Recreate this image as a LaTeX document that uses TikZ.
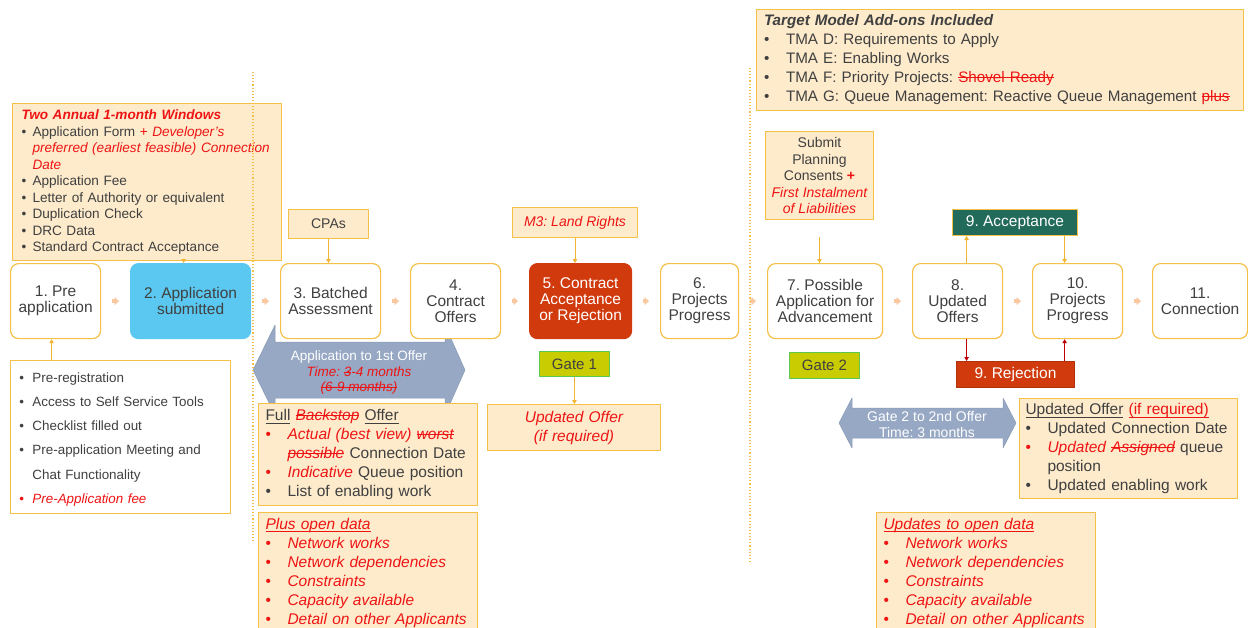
\documentclass[tikz,border=0pt]{standalone}
\usepackage{fontspec}
\setmainfont{Liberation Sans}
\usepackage{xcolor}
\usetikzlibrary{arrows.meta,calc,positioning}

\definecolor{txtgrey}{RGB}{64,64,64}
\definecolor{boxline}{RGB}{244,192,72}
\definecolor{boxfill}{RGB}{253,235,204}
\definecolor{offred}{RGB}{238,20,20}
\definecolor{skyfill}{RGB}{90,200,240}
\definecolor{rustfill}{RGB}{208,58,12}
\definecolor{tealfill}{RGB}{34,106,90}
\definecolor{gatefill}{RGB}{200,204,0}
\definecolor{gateline}{RGB}{90,200,80}
\definecolor{arrowgrey}{RGB}{150,168,196}
\definecolor{flowtip}{RGB}{248,200,160}
\definecolor{linkorange}{RGB}{242,180,50}
\definecolor{linkred}{RGB}{192,0,0}

\frenchspacing
\newsavebox{\markbox}
\newlength{\bulind}
\newcommand{\fsz}[2]{\fontsize{#1}{#2}\selectfont}
\newcommand{\strk}[1]{\sbox{\markbox}{#1}\rlap{\rule[0.3em]{\wd\markbox}{0.9pt}}\usebox{\markbox}}
\newcommand{\undl}[1]{\sbox{\markbox}{#1}\rlap{\rule[-0.2em]{\wd\markbox}{0.9pt}}\usebox{\markbox}}
\newcommand{\redit}[1]{\textcolor{offred}{\itshape #1}}
\newcommand{\bitem}[2][txtgrey]{\par\hangindent=\bulind\hangafter=1\noindent\makebox[\bulind][l]{\textcolor{#1}{\textbullet}}#2}

\begin{document}
\begin{tikzpicture}[x=1pt,y=-1pt,line join=round]

\tikzstyle{stage}=[draw=boxline, line width=1.2pt, rounded corners=8pt, fill=white,
text=txtgrey, align=center, anchor=north west, minimum height=75pt, inner sep=0pt,
font=\fsz{15.5}{16}]
\tikzstyle{notebox}=[draw=boxline, line width=1pt, fill=boxfill, text=txtgrey,
align=left, anchor=north west, inner ysep=0pt, font=\fsz{15.5}{19}]
\tikzstyle{tagbox}=[draw=boxline, line width=1pt, fill=boxfill, text=txtgrey,
align=center, anchor=north west, inner sep=0pt, font=\fsz{14}{16.5}]
\tikzstyle{gatebox}=[draw=gateline, line width=1pt, fill=gatefill, text=txtgrey,
anchor=north west, inner sep=0pt, minimum width=70pt, minimum height=25pt, font=\fsz{15}{16}]
\tikzstyle{outcome}=[line width=1pt, text=white, anchor=north west, inner sep=0pt,
minimum height=26pt, font=\fsz{15.5}{16}]
\tikzstyle{flow}=[-{Triangle[length=4.5pt,width=8pt]}, line width=3.5pt, flowtip,
shorten <=11pt, shorten >=11pt]
\tikzstyle{link}=[-{Triangle[length=4pt,width=4.5pt]}, line width=0.9pt, linkorange]
\tikzstyle{redlink}=[link, linkred]
\tikzstyle{span}=[fill=arrowgrey, draw=arrowgrey!92!black, line width=0.5pt]
\tikzstyle{sepline}=[boxline, dotted, line width=1.1pt]

\clip (0,0) rectangle (1248,627);

%time spans behind the boxes
\draw[span] (253,370) -- (275,325) -- (275,342) -- (445,342) -- (445,325) -- (465,370)
-- (445,415) -- (445,398) -- (275,398) -- (275,415) -- cycle;
\node[text=white, align=center, font=\fsz{13.5}{15.5}] (spanA) at (359,373)
{Application to 1st Offer\\\redit{Time: \strk{3}-4 months}\\\redit{\strk{(6-9 months)}}};

\draw[span] (839,423) -- (852,398) -- (852,408) -- (1003,408) -- (1003,398) -- (1016,423)
-- (1003,448) -- (1003,438) -- (852,438) -- (852,448) -- cycle;
\node[text=white, align=center, font=\fsz{14}{16}] (spanB) at (927,424)
{Gate 2 to 2nd Offer\\Time: 3 months};

%stages
\node[stage, minimum width=90pt] (s1) at (10,263) {1. Pre\\application};
\node[stage, minimum width=120pt, fill=skyfill, draw=skyfill] (s2) at (130,263) {2. Application\\submitted};
\node[stage, minimum width=100pt] (s3) at (280,263) {3. Batched\\Assessment};
\node[stage, minimum width=90pt] (s4) at (410,263) {4.\\Contract\\Offers};
\node[stage, minimum width=102pt, fill=rustfill, draw=rustfill, text=white] (s5) at (529,263)
{5. Contract\\Acceptance\\or Rejection};
\node[stage, minimum width=78pt] (s6) at (660,263) {6.\\Projects\\Progress};
\node[stage, minimum width=115pt] (s7) at (767,263) {7. Possible\\Application for\\Advancement};
\node[stage, minimum width=90pt] (s8) at (912,263) {8.\\Updated\\Offers};
\node[stage, minimum width=90pt] (s10) at (1032,263) {10.\\Projects\\Progress};
\node[stage, minimum width=95pt] (s11) at (1152,263) {11.\\Connection};

%notes
\node[notebox, minimum width=269pt, minimum height=157pt, text width=251pt, inner xsep=9pt,
font=\fsz{13.6}{16.5}] (win) at (12,103) {\setlength{\bulind}{11pt}%
\noindent{\color{offred}\bfseries\itshape Two Annual 1-month Windows}
\bitem{Application Form {\color{offred}+ \itshape Developer's}\newline
{\color{offred}\itshape preferred (earliest feasible) Connection}\newline
{\color{offred}\itshape Date}}
\bitem{Application Fee}
\bitem{Letter of Authority or equivalent}
\bitem{Duplication Check}
\bitem{DRC Data}
\bitem{Standard Contract Acceptance}};

\node[notebox, fill=white, minimum width=220pt, minimum height=153pt, text width=202pt,
inner xsep=9pt, font=\fsz{13.4}{24.3}] (pre) at (10,360) {\setlength{\bulind}{13pt}%
\vspace*{-10pt}
\bitem{Pre-registration}
\bitem{Access to Self Service Tools}
\bitem{Checklist filled out}
\bitem{Pre-application Meeting and\newline Chat Functionality}
\bitem[offred]{\redit{Pre-Application fee}}};

\node[notebox, minimum width=219pt, minimum height=102pt, text width=205pt, inner xsep=7pt]
(full) at (258,403) {\setlength{\bulind}{22pt}%
\noindent\undl{Full} {\color{offred}\itshape\strk{Backstop}} \undl{Offer}
\bitem[offred]{\redit{Actual (best view) \strk{worst}}\newline
\redit{\strk{possible}} Connection Date}
\bitem[offred]{\redit{Indicative} Queue position}
\bitem{List of enabling work}};

\node[notebox, minimum width=219pt, minimum height=120pt, text width=205pt, inner xsep=7pt]
(open) at (258,512) {\setlength{\bulind}{22pt}%
\noindent\redit{\undl{Plus open data}}
\bitem[offred]{\redit{Network works}}
\bitem[offred]{\redit{Network dependencies}}
\bitem[offred]{\redit{Constraints}}
\bitem[offred]{\redit{Capacity available}}
\bitem[offred]{\redit{Detail on other Applicants}}};

\node[notebox, align=center, minimum width=173pt, minimum height=46pt, text width=160pt]
(upd1) at (487,404) {\redit{Updated Offer}\\\redit{(if required)}};

\node[notebox, minimum width=487pt, minimum height=101pt, text width=472pt, inner xsep=7.5pt,
font=\fsz{15.2}{19}] (tma) at (756,9) {\setlength{\bulind}{22pt}%
\noindent{\bfseries\itshape Target Model Add-ons Included}
\bitem{TMA D: Requirements to Apply}
\bitem{TMA E: Enabling Works}
\bitem{TMA F: Priority Projects: {\color{offred}\strk{Shovel Ready}}}
\bitem{TMA G: Queue Management: Reactive Queue Management~{\color{offred}\strk{plus}}}};

\node[notebox, minimum width=218pt, minimum height=100pt, text width=206pt, inner xsep=6pt]
(upd2) at (1019,398) {\setlength{\bulind}{22pt}%
\noindent\undl{Updated Offer} {\color{offred}\undl{(if required)}}
\bitem{Updated Connection Date}
\bitem[offred]{\redit{Updated \strk{Assigned}} queue\newline position}
\bitem{Updated enabling work}};

\node[notebox, minimum width=219pt, minimum height=120pt, text width=205pt, inner xsep=7pt]
(open2) at (876,512) {\setlength{\bulind}{22pt}%
\noindent\redit{\undl{Updates to open data}}
\bitem[offred]{\redit{Network works}}
\bitem[offred]{\redit{Network dependencies}}
\bitem[offred]{\redit{Constraints}}
\bitem[offred]{\redit{Capacity available}}
\bitem[offred]{\redit{Detail on other Applicants}}};

\node[tagbox, minimum width=80pt, minimum height=29pt] (cpa) at (288,209) {CPAs};
\node[tagbox, minimum width=125pt, minimum height=30pt] (m3) at (512,207) {\redit{M3: Land Rights}};
\node[tagbox, minimum width=108pt, minimum height=88pt] (plan) at (765,131)
{Submit\\Planning\\Consents {\color{offred}\bfseries +}\\\redit{First Instalment}\\\redit{of Liabilities}};

\node[gatebox] (g1) at (539,351) {Gate 1};
\node[gatebox, minimum height=26pt] (g2) at (789,352) {Gate 2};

\node[outcome, fill=tealfill, draw=boxline, minimum width=125pt] (acc) at (952,209) {9. Acceptance};
\node[outcome, fill=rustfill, draw=rustfill!85!black, minimum width=118pt] (rej) at (956,361) {9. Rejection};

%flow between stages
\draw[flow] (s1) -- (s2);
\draw[flow] (s2) -- (s3);
\draw[flow] (s3) -- (s4);
\draw[flow] (s4) -- (s5);
\draw[flow] (s5) -- (s6);
\draw[flow] (s6) -- (s7);
\draw[flow] (s7) -- (s8);
\draw[flow] (s8) -- (s10);
\draw[flow] (s10) -- (s11);

%feeds into stages
\draw[link] ([xshift=-7pt]s2.north |- win.south) -- ([xshift=-7pt]s2.north);
\draw[link] ([xshift=-4pt]s1.south |- pre.north) -- ([xshift=-4pt]s1.south);
\draw[link] (cpa.south) -- (cpa.south |- s3.north);
\draw[link] (m3.south) -- (m3.south |- s5.north);
\draw[link] (g1.south) -- (g1.south |- upd1.north);
\draw[link] ([yshift=-17pt]plan.south) -- (plan.south |- s7.north);
\draw[link] ([xshift=9pt]s8.north) -- ([xshift=9pt]s8.north |- acc.south);
\draw[link] ([xshift=-13pt]s10.north |- acc.south) -- ([xshift=-13pt]s10.north);
\draw[redlink] ([xshift=9pt]s8.south) -- ([xshift=9pt]s8.south |- rej.north);
\draw[redlink] ([xshift=-13pt]s10.south |- rej.north) -- ([xshift=-13pt]s10.south);

%window separators
\coordinate (sepA) at (253,72);
\coordinate (sepA end) at (253,542);
\coordinate (sepB) at (750,68);
\coordinate (sepB end) at (750,562);
\draw[sepline] (sepA) -- (sepA end);
\draw[sepline] (sepB) -- (sepB end);

\end{tikzpicture}
\end{document}
